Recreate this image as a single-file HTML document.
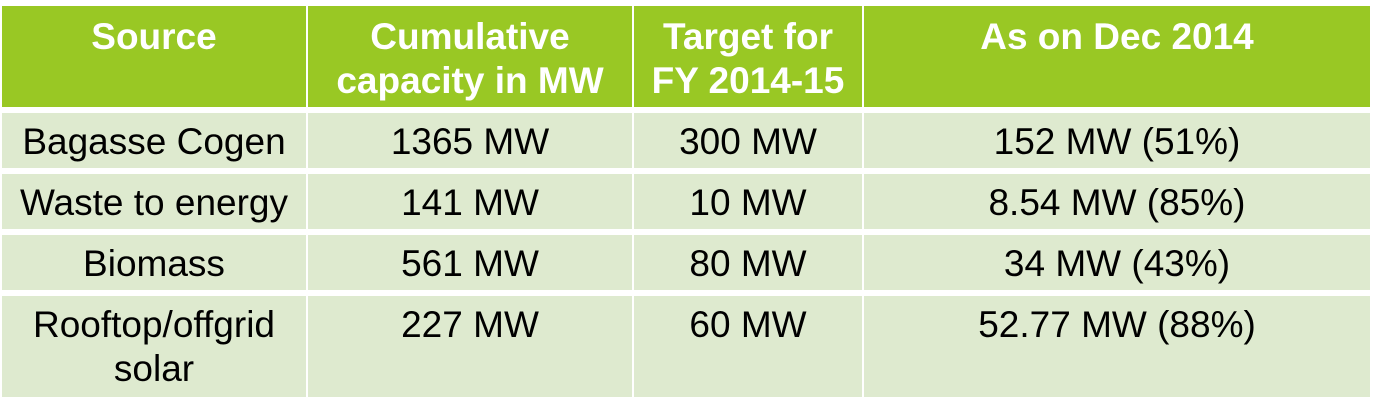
<!DOCTYPE html>
<html><head><meta charset="utf-8"><style>
body{margin:0;width:1376px;height:414px;background:#fff;position:relative;overflow:hidden;font-family:"Liberation Sans",Arial,sans-serif;}
.c{position:absolute;box-sizing:border-box;text-align:center;font-size:37px;line-height:44px;color:#000;white-space:nowrap;}
.h{background:#99c824;color:#fff;font-weight:bold;padding-top:9px;}
.b{background:#deeacf;padding-top:7px;}
</style></head><body>
<div class="c h" style="left:2px;top:6px;width:304px;height:101px;">Source</div>
<div class="c h" style="left:308px;top:6px;width:324px;height:101px;">Cumulative<br>capacity in MW</div>
<div class="c h" style="left:634px;top:6px;width:228px;height:101px;">Target for<br>FY 2014-15</div>
<div class="c h" style="left:864px;top:6px;width:506px;height:101px;">As on Dec 2014</div>

<div class="c b" style="left:2px;top:113px;width:304px;height:55px;">Bagasse Cogen</div>
<div class="c b" style="left:308px;top:113px;width:324px;height:55px;">1365 MW</div>
<div class="c b" style="left:634px;top:113px;width:228px;height:55px;">300 MW</div>
<div class="c b" style="left:864px;top:113px;width:506px;height:55px;">152 MW (51%)</div>

<div class="c b" style="left:2px;top:174px;width:304px;height:55px;">Waste to energy</div>
<div class="c b" style="left:308px;top:174px;width:324px;height:55px;">141 MW</div>
<div class="c b" style="left:634px;top:174px;width:228px;height:55px;">10 MW</div>
<div class="c b" style="left:864px;top:174px;width:506px;height:55px;">8.54 MW (85%)</div>

<div class="c b" style="left:2px;top:235px;width:304px;height:55px;">Biomass</div>
<div class="c b" style="left:308px;top:235px;width:324px;height:55px;">561 MW</div>
<div class="c b" style="left:634px;top:235px;width:228px;height:55px;">80 MW</div>
<div class="c b" style="left:864px;top:235px;width:506px;height:55px;">34 MW (43%)</div>

<div class="c b" style="left:2px;top:296px;width:304px;height:101px;">Rooftop/offgrid<br>solar</div>
<div class="c b" style="left:308px;top:296px;width:324px;height:101px;">227 MW</div>
<div class="c b" style="left:634px;top:296px;width:228px;height:101px;">60 MW</div>
<div class="c b" style="left:864px;top:296px;width:506px;height:101px;">52.77 MW (88%)</div>
</body></html>
